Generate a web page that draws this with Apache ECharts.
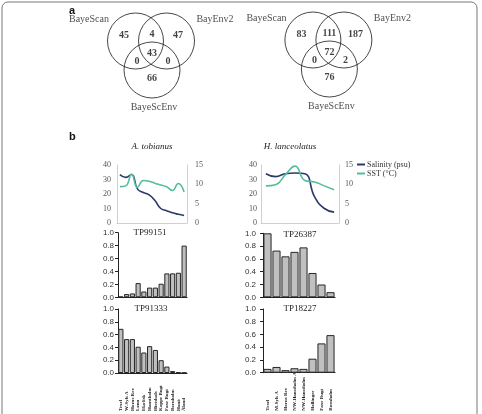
<!DOCTYPE html>
<html>
<head>
<meta charset="utf-8">
<script src="https://cdn.jsdelivr.net/npm/echarts@6/dist/echarts.min.js"></script>
<style>
  html, body { margin: 0; padding: 0; background: #fff; }
  #main { width: 482px; height: 414px; }
</style>
</head>
<body>
<div id="main"></div>
<script>
'use strict';

// panel a: venn counts (regions: A only, A&B, B only, A&B&C, A&C, B&C, C only)
var vennSets = ['BayeScan', 'BayEnv2', 'BayeScEnv'];
var vennTobianus = [45, 4, 47, 43, 0, 0, 66];
var vennLanceolatus = [83, 111, 187, 72, 0, 2, 76];

// panel b: sites
var sitesTobianus = ['Texel', 'W-Sylt A', 'Horns Rev', 'Lønn', 'Ekofisk', 'Hanstholm',
  'Hirtshals', 'Kappe Bugt', 'Faxe Bugt', 'Bornholm', 'Hanö', 'Åland'];
var sitesLanceolatus = ['Texel', 'M-Sylt A', 'Horns Rev', 'NW-Hanstholm A', 'NW-Hanstholm',
  'Hollinger', 'Faxe Bugt', 'Bornholm'];

// environment
var salinityTobianus = [33.4, 31.5, 33.5, 23.5, 21, 19.4, 15.5, 10, 8.5, 7, 6, 5.2];
var sstTobianus = [9.4, 9.6, 12.6, 9.2, 11.0, 10.8, 10.3, 9.8, 9.4, 8.4, 10.2, 8.0];
var salinityLanceolatus = [34, 32, 34, 34.5, 34, 18, 10, 7.5];
var sstLanceolatus = [9.6, 9.9, 12.5, 14.7, 11.0, 10.6, 9.6, 8.6];

// allele frequencies
var tp99151 = [0.01, 0.05, 0.06, 0.22, 0.09, 0.15, 0.15, 0.21, 0.37, 0.37, 0.38, 0.80];
var tp91333 = [0.69, 0.53, 0.53, 0.41, 0.32, 0.42, 0.36, 0.20, 0.10, 0.03, 0.01, 0.005];
var tp26387 = [1.0, 0.73, 0.64, 0.71, 0.78, 0.38, 0.20, 0.08];
var tp18227 = [0.06, 0.09, 0.04, 0.07, 0.06, 0.22, 0.46, 0.59];

var SERIF = 'Liberation Serif';
var SANS = 'Liberation Sans';

// venn layout, in pixels from the middle of the two upper circles
var circlePos = [[-15.5, 0], [15.5, 0], [1, 29]];
var regionPos = [[-27, -6], [1, -7], [27, -6], [1, 12], [-14, 20], [17, 20], [1, 37]];
var setLabelPos = [[-62, -22], [64, -22], [3, 66]];

function vennSeries(idx, counts) {
  return [{
    type: 'scatter', xAxisIndex: idx, yAxisIndex: idx, silent: true,
    symbolSize: 56,
    itemStyle: { color: 'rgba(0,0,0,0)', borderColor: '#1a1a1a', borderWidth: 1 },
    data: circlePos
  }, {
    type: 'scatter', xAxisIndex: idx, yAxisIndex: idx, silent: true,
    symbolSize: 1, itemStyle: { color: 'rgba(0,0,0,0)' },
    label: { show: true, position: 'inside', fontFamily: SERIF, fontWeight: 'bold',
      fontSize: 10, color: '#111', formatter: function (p) { return p.value[2]; } },
    data: regionPos.map(function (p, i) { return [p[0], p[1], counts[i]]; })
  }, {
    type: 'scatter', xAxisIndex: idx, yAxisIndex: idx, silent: true,
    symbolSize: 1, itemStyle: { color: 'rgba(0,0,0,0)' },
    label: { show: true, position: 'inside', fontFamily: SERIF,
      fontSize: 10, color: '#222', formatter: function (p) { return p.value[2]; } },
    data: setLabelPos.map(function (p, i) { return [p[0], p[1], vennSets[i]]; })
  }];
}

function hiddenAxis(grid, min, max, inverse) {
  return { type: 'value', gridIndex: grid, min: min, max: max, inverse: !!inverse, show: false };
}

function lineX(grid, cats) {
  return { type: 'category', gridIndex: grid, data: cats, boundaryGap: true,
    axisLine: { lineStyle: { color: '#d0d0d0' } }, axisTick: { show: false },
    axisLabel: { show: false } };
}

function lineY(grid, max, interval, pos, margin) {
  return { type: 'value', gridIndex: grid, min: 0, max: max, interval: interval, position: pos,
    splitLine: { show: false }, axisTick: { show: false },
    axisLine: { show: true, lineStyle: { color: '#d0d0d0' } },
    axisLabel: { fontFamily: SERIF, fontSize: 8, color: '#555', margin: margin } };
}

function barX(grid, cats, showLabels) {
  return { type: 'category', gridIndex: grid, data: cats,
    axisLine: { lineStyle: { color: '#222', width: 1 } }, axisTick: { show: false },
    axisLabel: { show: showLabels, rotate: 90, align: 'left', margin: 38, interval: 0,
      fontFamily: SERIF, fontWeight: 'bold', fontSize: 5, color: '#222' } };
}

function barY(grid, margin) {
  return { type: 'value', gridIndex: grid, min: 0, max: 1, interval: 0.2,
    splitLine: { show: false },
    axisLine: { show: true, lineStyle: { color: '#222' } },
    axisTick: { show: true, length: 3, lineStyle: { color: '#222' } },
    axisLabel: { fontFamily: SANS, fontSize: 8, color: '#333', margin: margin,
      formatter: function (v) { return v.toFixed(1); } } };
}

function bars(axis, yAxis, values) {
  return { type: 'bar', xAxisIndex: axis, yAxisIndex: yAxis, data: values,
    barCategoryGap: '10%', silent: true,
    itemStyle: { color: '#c0c0c0', borderColor: '#262626', borderWidth: 1 } };
}

function envLine(name, axis, yAxis, values, color) {
  return { type: 'line', name: name, xAxisIndex: axis, yAxisIndex: yAxis, data: values,
    smooth: true, showSymbol: false, silent: true,
    lineStyle: { color: color, width: 1.6 }, itemStyle: { color: color } };
}

var SAL_COLOR = '#2c3a68';
var SST_COLOR = '#55bd9e';

var titleStyle = { fontFamily: SERIF, fontSize: 9, fontWeight: 'normal', color: '#222' };
function title(text, x, y, style) {
  return { text: text, left: x, top: y, textAlign: 'center', padding: 0,
    textStyle: Object.assign({}, titleStyle, style || {}) };
}

var chart = echarts.init(document.getElementById('main'));
chart.setOption({
  animation: false,
  backgroundColor: '#fff',
  title: [
    { text: 'a', left: 69, top: 5, padding: 0,
      textStyle: { fontFamily: SANS, fontSize: 11, fontWeight: 'bold', color: '#111' } },
    { text: 'b', left: 69, top: 131, padding: 0,
      textStyle: { fontFamily: SANS, fontSize: 11, fontWeight: 'bold', color: '#111' } },
    title('A. tobianus', 152, 142, { fontStyle: 'italic' }),
    title('H. lanceolatus', 290, 142, { fontStyle: 'italic' }),
    title('TP99151', 150, 228),
    title('TP91333', 151, 304),
    title('TP26387', 300, 230),
    title('TP18227', 300, 304)
  ],
  legend: {
    left: 357, top: 160, orient: 'vertical', itemGap: 0, itemWidth: 8, itemHeight: 2,
    icon: 'rect', selectedMode: false, padding: 0,
    textStyle: { fontFamily: SERIF, fontSize: 8, color: '#333', padding: [0, 0, 0, -3], lineHeight: 9 },
    data: ['Salinity (psu)', 'SST (°C)']
  },
  graphic: [{
    type: 'rect', silent: true,
    shape: { x: 2, y: 2, width: 475, height: 440, r: 6 },
    style: { fill: 'none', stroke: '#777', lineWidth: 1 }
  }],
  grid: [
    { left: 51, top: 0, width: 200, height: 120 },
    { left: 228.4, top: 0, width: 200, height: 120 },
    { left: 117, top: 165, width: 70, height: 58 },
    { left: 261, top: 165, width: 78, height: 58 },
    { left: 118, top: 232.7, width: 69, height: 64.6 },
    { left: 118, top: 309, width: 69, height: 64.3 },
    { left: 263, top: 233.3, width: 72, height: 64 },
    { left: 263, top: 309, width: 72, height: 63.7 }
  ],
  xAxis: [
    hiddenAxis(0, -100, 100),
    hiddenAxis(1, -100, 100),
    lineX(2, sitesTobianus),
    lineX(3, sitesLanceolatus),
    barX(4, sitesTobianus, false),
    barX(5, sitesTobianus, true),
    barX(6, sitesLanceolatus, false),
    barX(7, sitesLanceolatus, true)
  ],
  yAxis: [
    hiddenAxis(0, -41, 79, true),
    hiddenAxis(1, -40, 80, true),
    lineY(2, 40, 10, 'left', 6),
    lineY(2, 15, 5, 'right', 8),
    lineY(3, 40, 10, 'left', 4),
    lineY(3, 15, 5, 'right', 6),
    barY(4, 4),
    barY(5, 4),
    barY(6, 7),
    barY(7, 7)
  ],
  series: [].concat(
    vennSeries(0, vennTobianus),
    vennSeries(1, vennLanceolatus),
    [
      envLine('Salinity (psu)', 2, 2, salinityTobianus, SAL_COLOR),
      envLine('SST (°C)', 2, 3, sstTobianus, SST_COLOR),
      envLine('Salinity (psu)', 3, 4, salinityLanceolatus, SAL_COLOR),
      envLine('SST (°C)', 3, 5, sstLanceolatus, SST_COLOR),
      bars(4, 6, tp99151),
      bars(5, 7, tp91333),
      bars(6, 8, tp26387),
      bars(7, 9, tp18227)
    ]
  )
});
</script>
</body>
</html>
